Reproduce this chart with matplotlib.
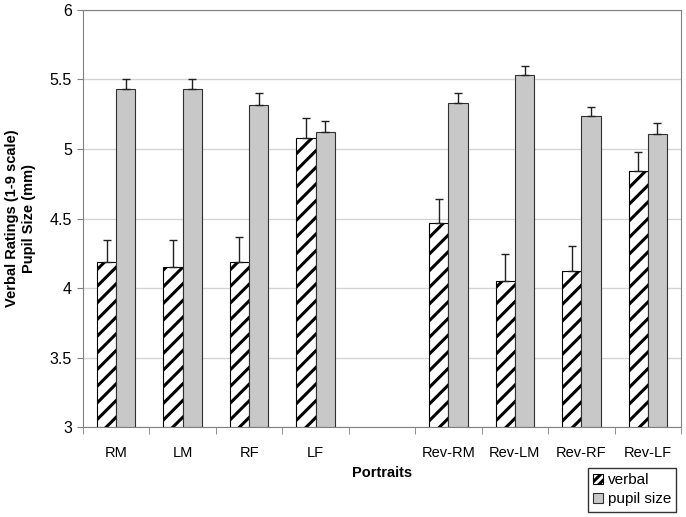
import numpy as np
import matplotlib
matplotlib.use("Agg")
import matplotlib.pyplot as plt
from matplotlib.patches import Patch

plt.rcParams['font.family'] = ['Liberation Sans', 'DejaVu Sans']
plt.rcParams['hatch.linewidth'] = 2.2

# portraits, with an empty slot between the two groups
portraits = ['RM', 'LM', 'RF', 'LF', 'Rev-RM', 'Rev-LM', 'Rev-RF', 'Rev-LF']
verbal = [4.19, 4.15, 4.19, 5.08, 4.47, 4.05, 4.12, 4.84]
verbal_err = [0.155, 0.195, 0.18, 0.14, 0.17, 0.195, 0.18, 0.14]
pupil = [5.43, 5.43, 5.32, 5.12, 5.33, 5.53, 5.24, 5.11]
pupil_err = [0.075, 0.07, 0.08, 0.08, 0.075, 0.07, 0.065, 0.08]

pos = np.array([0, 1, 2, 3, 5, 6, 7, 8])
w = 0.29

fig = plt.figure(figsize=(6.86, 5.17), dpi=100)
ax = fig.add_axes([0.121, 0.174, 0.8717, 0.8067])

ax.bar(pos - w / 2, [v - 3 for v in verbal], w, bottom=3, color='white',
       edgecolor='black', hatch='//', linewidth=0.8, zorder=2)
ax.bar(pos + w / 2, [v - 3 for v in pupil], w, bottom=3, color='#c8c8c8',
       edgecolor='#303030', linewidth=0.8, zorder=2)
ax.errorbar(pos - w / 2, verbal, yerr=[np.zeros(8), verbal_err], fmt='none',
            ecolor='#202020', elinewidth=1, capsize=3, capthick=1, zorder=3)
ax.errorbar(pos + w / 2, pupil, yerr=[np.zeros(8), pupil_err], fmt='none',
            ecolor='#202020', elinewidth=1, capsize=3, capthick=1, zorder=3)

ax.set_ylim(3, 6)
ax.set_xlim(-0.5, 8.5)
ax.set_yticks([3, 3.5, 4, 4.5, 5, 5.5, 6])
ax.set_yticklabels(['3', '3.5', '4', '4.5', '5', '5.5', '6'], fontsize=11.5)
ax.set_xticks(pos)
ax.set_xticklabels(portraits, fontsize=10.5)
ax.set_xticks(np.arange(-0.5, 9, 1), minor=True)
ax.tick_params(axis='x', which='major', length=0, pad=14)
ax.tick_params(axis='x', which='minor', length=5, color='#808080')
ax.tick_params(axis='y', length=4, color='#808080', pad=4)
ax.yaxis.grid(True, color='#d4d4d4', linewidth=1, zorder=0)
ax.set_axisbelow(True)
for s in ax.spines.values():
    s.set_color('#808080')

ax.set_ylabel('Verbal Ratings (1-9 scale)\nPupil Size (mm)', fontsize=10.5,
              fontweight='bold', labelpad=10, linespacing=1.25)
ax.set_xlabel('Portraits', fontsize=10.5, fontweight='bold', labelpad=4)

handles = [Patch(facecolor='white', edgecolor='black', hatch='////', linewidth=0.8),
           Patch(facecolor='#c8c8c8', edgecolor='#303030', linewidth=0.8)]
leg = fig.legend(handles, ['verbal', 'pupil size'], loc='lower right',
                 bbox_to_anchor=(0.986, 0.01), fontsize=11, frameon=True,
                 fancybox=False, edgecolor='black', handlelength=0.65,
                 handleheight=0.65, handletextpad=0.3, borderpad=0.35,
                 labelspacing=0.35, borderaxespad=0)
leg.get_frame().set_linewidth(1)

fig.savefig('out.png', dpi=100)
